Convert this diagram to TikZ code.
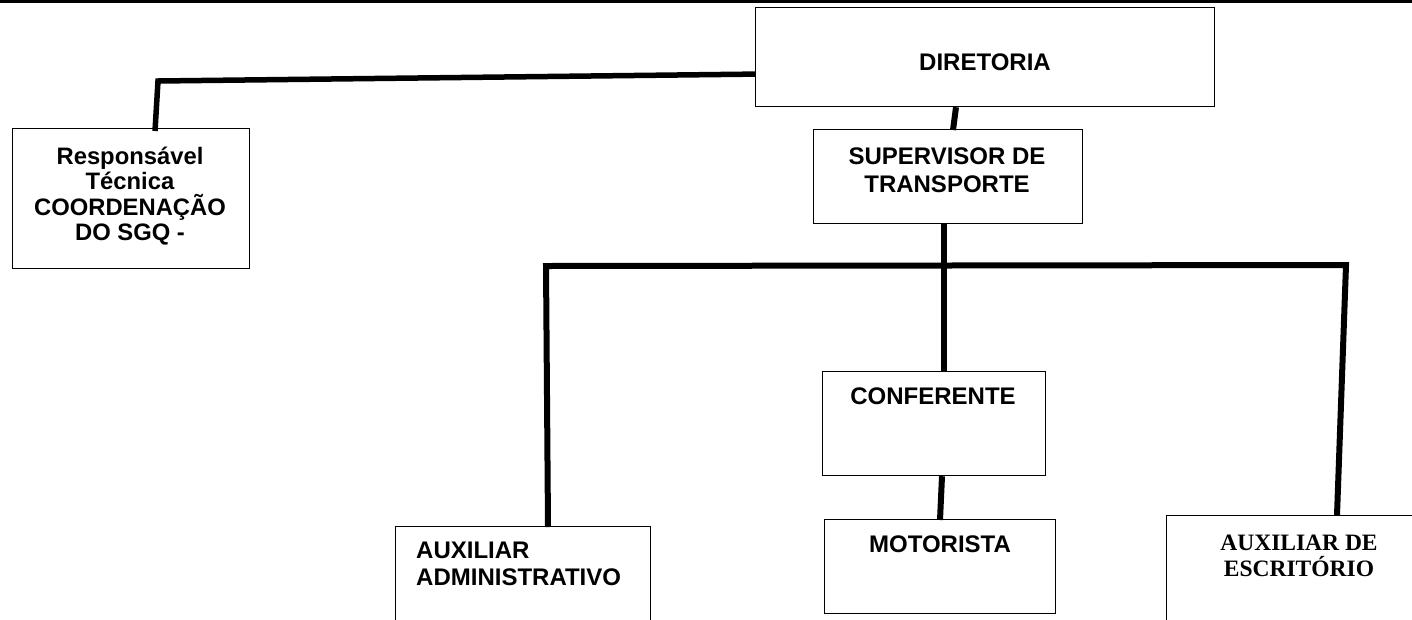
\documentclass[tikz,border=0pt]{standalone}
\usepackage{fontspec}
\setmainfont{Liberation Sans}
\newfontfamily\serifbold{Liberation Serif}
\usetikzlibrary{calc}
\begin{document}
\begin{tikzpicture}[x=1pt,y=-1pt,
  box/.style={draw=black,line width=1.2pt,rectangle,inner sep=0pt,anchor=north west},
  lbl/.style={font=\fontsize{24}{27}\selectfont\bfseries,inner sep=0pt,align=center},
  conn/.style={line width=6pt,draw=black,line join=miter}]
\clip (0,0) rectangle (1412,619);
\fill[white] (0,0) rectangle (1412,619);
% top rule
\coordinate (tl) at (0,1.5);
\coordinate (tr) at (1412,1.5);
\draw[line width=3pt] (tl) -- (tr);
% boxes
\node[box,minimum width=459pt,minimum height=99pt] (dir) at (755,7) {};
\node[box,minimum width=237pt,minimum height=140pt] (resp) at (12,128) {};
\node[box,minimum width=269pt,minimum height=94pt] (sup) at (813,129) {};
\node[box,minimum width=223pt,minimum height=104pt] (conf) at (822,371) {};
\node[box,minimum width=231pt,minimum height=94pt] (mot) at (824,519) {};
\node[box,minimum width=255pt,minimum height=120pt] (adm) at (395,526) {};
\node[box,minimum width=280pt,minimum height=130pt] (esc) at (1166,515) {};
% texts
\node[lbl] (dirT) at (985,62) {DIRETORIA};
\node[lbl,font=\fontsize{23.8}{25.3}\selectfont\bfseries] (respT) at (130,196) {Responsável\\Técnica\\COORDENAÇÃO\\DO SGQ -};
\node[lbl,font=\fontsize{24}{28}\selectfont\bfseries] (supT) at (947,170) {SUPERVISOR DE\\TRANSPORTE};
\node[lbl] (confT) at (933,396) {CONFERENTE};
\node[lbl] (motT) at (940,544) {MOTORISTA};
\node[lbl,align=left,anchor=west] (admT) at (416,564) {AUXILIAR\\ADMINISTRATIVO};
\node[lbl,font=\fontsize{23.5}{26}\serifbold\bfseries] (escT) at (1299,556) {AUXILIAR DE\\ESCRITÓRIO};
% connectors
\draw[conn,line width=5.5pt] ($(resp.north west)+(143,3)$) -- (158,81) -- ($(dir.west)+(0,17)$);
\draw[conn] ($(dir.south west)+(201,0)$) -- ($(sup.north west)+(140,1)$);
\draw[conn] ($(sup.south west)+(131,0)$) -- ($(conf.north west)+(122,0)$);
\coordinate (barL) at (546,266);
\coordinate (barR) at (1346,265);
\draw[conn] ($(adm.north west)+(153,1)$) -- (barL) -- (barR) -- ($(esc.north west)+(171,0)$);
\draw[conn] ($(conf.south west)+(120,0)$) -- ($(mot.north west)+(116,1)$);
\end{tikzpicture}
\end{document}
